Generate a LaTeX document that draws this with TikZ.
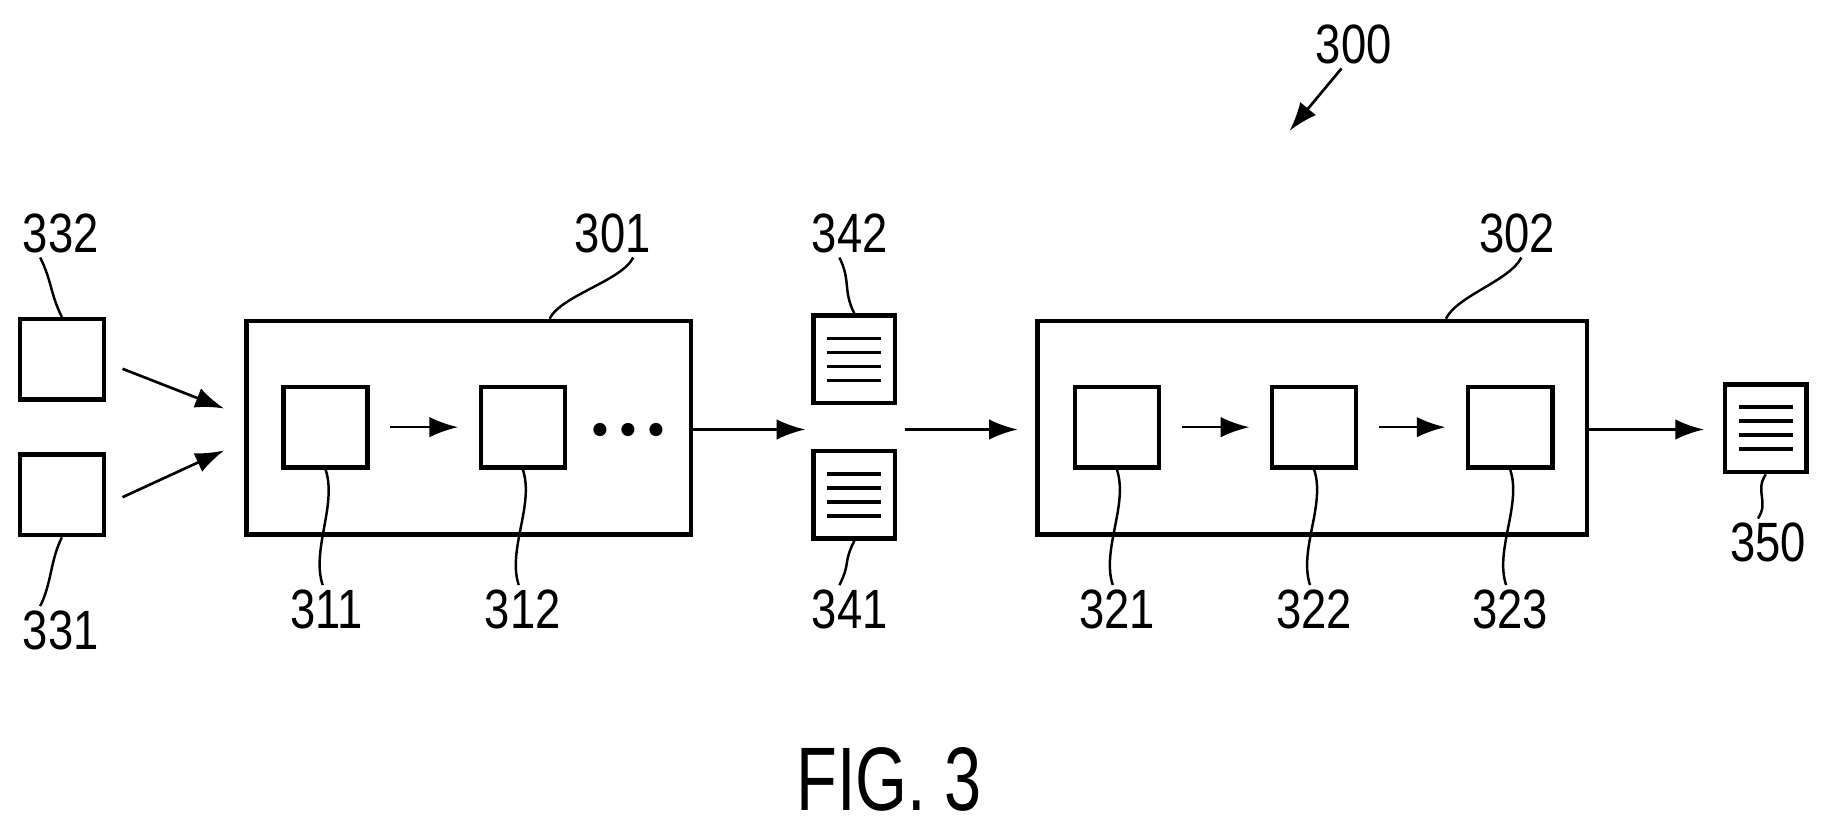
\documentclass[tikz,border=0pt]{standalone}
\usepackage{fontspec}
\setmainfont{Liberation Sans}
\usetikzlibrary{positioning,arrows.meta}

\tikzset{
    blk/.style={draw, line width=2.2pt, minimum width=1.44cm, minimum height=1.38cm, inner sep=0pt},
    big/.style={draw, line width=2.2pt, inner sep=0pt},
    doc/.style={draw, line width=2.2pt, minimum width=1.4cm, minimum height=1.5cm, inner sep=0pt},
    lbl/.style={font=\fontsize{27}{28}\selectfont, xscale=0.82, inner sep=2pt},
    flow/.style={-{Latex[length=14pt,width=10pt]}, line width=1.3pt},
    gap/.style={shorten <=10pt, shorten >=10pt},
    leader/.style={line width=1.2pt}
}

\newcommand{\doclines}[1]{%
    \foreach \k in {-0.36,-0.12,0.12,0.36}
        \draw[line width=1.8pt] ([xshift=-0.46cm,yshift=\k cm]#1.center) -- ([xshift=0.46cm,yshift=\k cm]#1.center);
}

\begin{document}
\begin{tikzpicture}[x=0.02cm, y=-0.02cm]
    \useasboundingbox (0,0) rectangle (1568,713);

    % inputs
    \node[blk] (in2) at (53,308) {};
    \node[blk] (in1) at (53,424) {};
    \node[lbl] (l332) at (52,200) {332};
    \node[lbl] (l331) at (52,540) {331};

    % first stage
    \node[big, minimum width=7.62cm, minimum height=3.66cm] (st1) at (401.5,366.5) {};
    \node[blk] (a1) at (279,366) {};
    \node[blk] (a2) at (448,366) {};
    \foreach \x [count=\i] in {514,538,562}
        \fill (\x,368) circle (3.2pt);
    \node[lbl] (l301) at (525,200) {301};
    \node[lbl] (l311) at (280,522) {311};
    \node[lbl] (l312) at (448,522) {312};

    % intermediate documents
    \node[doc] (d2) at (732,308) {};
    \node[doc] (d1) at (732,424) {};
    \doclines{d2}
    \doclines{d1}
    \node[lbl] (l342) at (728,200) {342};
    \node[lbl] (l341) at (728,522) {341};

    % second stage
    \node[big, minimum width=9.42cm, minimum height=3.66cm] (st2) at (1124.5,366.5) {};
    \node[blk] (b1) at (957,366) {};
    \node[blk] (b2) at (1126,366) {};
    \node[blk] (b3) at (1294,366) {};
    \node[lbl] (l302) at (1300,200) {302};
    \node[lbl] (l321) at (957,522) {321};
    \node[lbl] (l322) at (1126,522) {322};
    \node[lbl] (l323) at (1294,522) {323};

    % output
    \node[doc] (out) at (1513,367) {};
    \doclines{out}
    \node[lbl] (l350) at (1515,465) {350};

    \node[lbl] (l300) at (1160,38) {300};
    \coordinate (p300) at (1105,112);
    \node[font=\fontsize{44}{46}\selectfont, xscale=0.74] (fig) at (762,668) {FIG. 3};

    % connectors
    \coordinate (e1) at (192,350);
    \coordinate (e2) at (192,386);
    \coordinate (s1) at (105,316);
    \coordinate (s2) at (105,426);
    \coordinate (t1) at (690,368);
    \coordinate (u1) at (775,368);
    \coordinate (t2) at (872,368);
    \coordinate (t3) at (1460,368);
    \draw[flow] (s1) -- (e1);
    \draw[flow] (s2) -- (e2);
    \draw[flow, gap] (a1) -- (a2);
    \draw[flow] (st1.east |- t1) -- (t1);
    \draw[flow] (u1) -- (t2);
    \draw[flow, gap] (b1) -- (b2);
    \draw[flow, gap] (b2) -- (b3);
    \draw[flow] (st2.east |- t3) -- (t3);
    \draw[flow] ([xshift=-6pt]l300.south) -- (p300);

    % leaders
    \draw[leader] ([xshift=-10pt]l332.south) .. controls +(10,20) and +(-10,-20) .. (in2.north);
    \draw[leader] ([xshift=-10pt]l331.north) .. controls +(10,-20) and +(-10,20) .. (in1.south);
    \draw[leader] ([xshift=10pt]l301.south) .. controls +(-10,20) and +(10,-20) .. ([xshift=-70pt]st1.north east);
    \draw[leader] ([xshift=-2pt]l311.north) .. controls +(-10,-30) and +(10,30) .. (a1.south);
    \draw[leader] ([xshift=-2pt]l312.north) .. controls +(-10,-30) and +(10,30) .. (a2.south);
    \draw[leader] ([xshift=-5pt]l342.south) .. controls +(10,20) and +(-10,-20) .. (d2.north);
    \draw[leader] ([xshift=-5pt]l341.north) .. controls +(10,-20) and +(-10,20) .. (d1.south);
    \draw[leader] ([xshift=2pt]l302.south) .. controls +(-10,20) and +(10,-20) .. ([xshift=-70pt]st2.north east);
    \draw[leader] ([xshift=-2pt]l321.north) .. controls +(-10,-30) and +(10,30) .. (b1.south);
    \draw[leader] ([xshift=-2pt]l322.north) .. controls +(-10,-30) and +(10,30) .. (b2.south);
    \draw[leader] ([xshift=-2pt]l323.north) .. controls +(-10,-30) and +(10,30) .. (b3.south);
    \draw[leader] ([xshift=-5pt]l350.north) .. controls +(10,-15) and +(-10,15) .. (out.south);
\end{tikzpicture}
\end{document}
